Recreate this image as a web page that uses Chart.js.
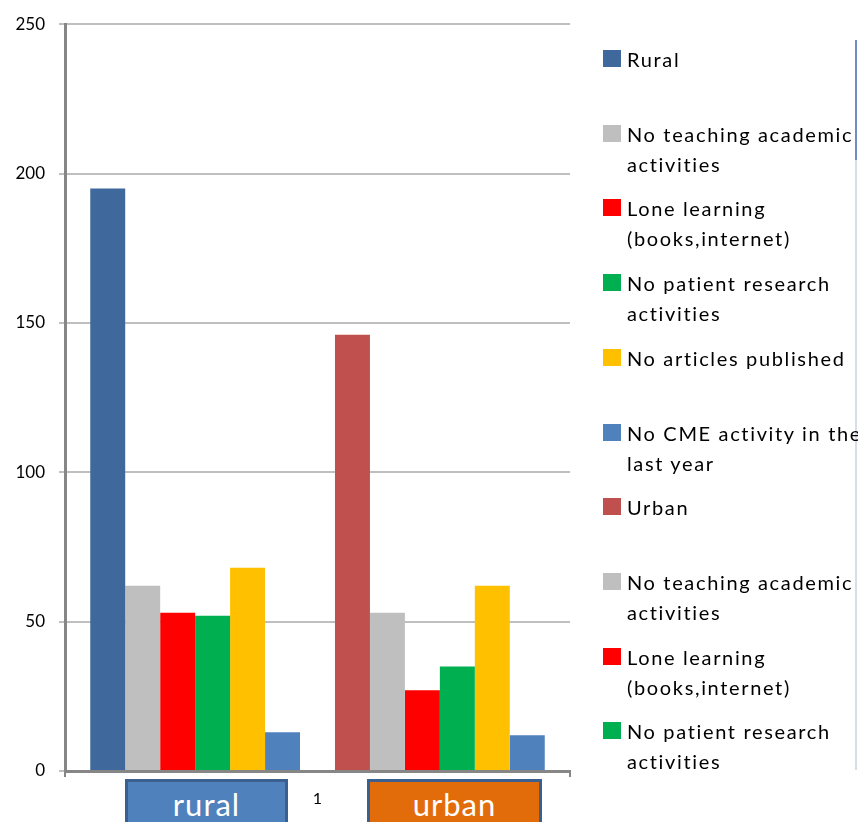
<!DOCTYPE html>
<html>
<head>
<meta charset="utf-8">
<script src="https://cdn.jsdelivr.net/npm/chart.js@4/dist/chart.umd.min.js"></script>
<style>
  html, body { margin: 0; padding: 0; background: #fff; overflow: hidden; }
  #wrap { position: relative; width: 858px; height: 822px; overflow: hidden; }
  canvas { position: absolute; left: 0; top: 0; }
  .leg { position: absolute; left: 603px; font-family: Lato, "Open Sans", sans-serif; font-size: 20px; letter-spacing: 1.65px; color: #000; white-space: nowrap; line-height: 30px; }
  .leg .sw { position: absolute; left: 0; top: 6px; width: 18px; height: 17px; }
  .leg .tx { position: absolute; left: 24px; top: 0; }
  .box { position: absolute; top: 779px; height: 50px; border: 3px solid #3B5F8E; box-sizing: border-box; color: #fff; font-family: Lato, "Open Sans", sans-serif; font-size: 31px; letter-spacing: 1px; text-align: center; line-height: 44px; }
  #edge { position: absolute; left: 855px; top: 40px; width: 2px; height: 730px; background: #d8dde6; }
  #edge2 { position: absolute; left: 855px; top: 40px; width: 2px; height: 120px; background: #6f8fc0; }
</style>
</head>
<body>
<div id="wrap">
  <canvas id="c" width="858" height="822"></canvas>
  <div id="edge"></div><div id="edge2"></div>
  <div id="legend"></div>
  <div class="box" style="left:125px;width:163px;background:#4F81BD;">rural</div>
  <div class="box" style="left:367px;width:175px;background:#E36C0A;">urban</div>
</div>
<script>
const categories = ["1"];
const seriesNames = [
  "Rural", "No teaching academic activities", "Lone learning (books,internet)",
  "No patient research activities", "No articles published", "No CME activity in the last year",
  "Urban", "No teaching academic activities", "Lone learning (books,internet)",
  "No patient research activities", "No articles published", "No CME activity in the last year"
];
const legendLines = [
  ["Rural"], ["No teaching academic", "activities"], ["Lone learning", "(books,internet)"],
  ["No patient research", "activities"], ["No articles published"], ["No CME activity in the", "last year"],
  ["Urban"], ["No teaching academic", "activities"], ["Lone learning", "(books,internet)"],
  ["No patient research", "activities"]
];
const ruralValues = [195, 62, 53, 52, 68, 13];
const urbanValues = [146, 53, 27, 35, 62, 12];
const ruralColors = ["#3F699D", "#BFBFBF", "#FF0000", "#00B050", "#FFC000", "#4F81BD"];
const urbanColors = ["#C0504D", "#BFBFBF", "#FF0000", "#00B050", "#FFC000", "#4F81BD"];
const yTicks = [0, 50, 100, 150, 200, 250];

const datasets = [];
ruralValues.forEach((v, i) => datasets.push({ label: seriesNames[i], data: [v], backgroundColor: ruralColors[i] }));
datasets.push({ label: "", data: [null], backgroundColor: "rgba(0,0,0,0)" });
urbanValues.forEach((v, i) => datasets.push({ label: seriesNames[6 + i], data: [v], backgroundColor: urbanColors[i] }));

// HTML legend
const legEl = document.getElementById('legend');
const legColors = ruralColors.concat(urbanColors);
legendLines.forEach((lines, i) => {
  const d = document.createElement('div');
  d.className = 'leg';
  d.style.top = (44 + i * 74.7) + 'px';
  d.innerHTML = '<div class="sw" style="background:' + legColors[i] + '"></div><div class="tx">' + lines.join('<br>') + '</div>';
  legEl.appendChild(d);
});

new Chart(document.getElementById('c'), {
  type: 'bar',
  data: { labels: categories, datasets: datasets },
  options: {
    responsive: false,
    animation: false,
    layout: { padding: { left: 0, right: 288, top: 18, bottom: 6 } },
    plugins: { legend: { display: false }, tooltip: { enabled: false } },
    datasets: { bar: { categoryPercentage: 0.9, barPercentage: 1.0 } },
    scales: {
      x: {
        afterFit: (s) => { s.height = 45; },
        grid: { display: true, drawOnChartArea: false, drawTicks: true, tickLength: 6, color: '#868686', lineWidth: 2 },
        border: { display: true, color: '#868686', width: 3 },
        ticks: { color: '#000', font: { family: 'Lato', size: 16 }, padding: 12 }
      },
      y: {
        min: 0, max: 250,
        afterFit: (s) => { s.width = 65; },
        afterBuildTicks: (s) => { s.ticks = yTicks.map(v => ({ value: v })); },
        grid: { color: '#BFBFBF', lineWidth: 2, tickLength: 6, drawTicks: true },
        border: { display: true, color: '#868686', width: 3 },
        ticks: { color: '#000', font: { family: 'Lato', size: 17 }, padding: 14 }
      }
    }
  }
});
</script>
</body>
</html>
